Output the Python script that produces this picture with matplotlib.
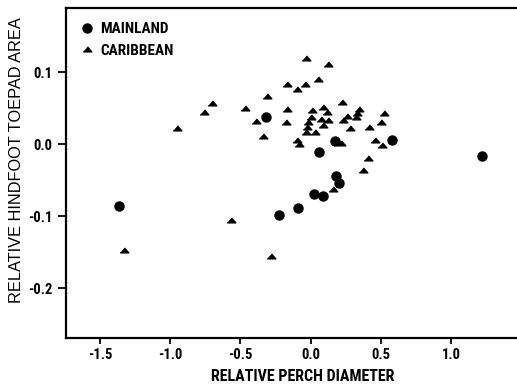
import matplotlib
matplotlib.use("Agg")
import matplotlib.pyplot as plt
from matplotlib import font_manager

fonts = font_manager.fontManager.ttflist
def has_bold(name):
    return any(f.name == name and (f.weight in ('bold', 700) or str(f.weight) == '700') for f in fonts)

cands = ['Liberation Sans Narrow', 'Roboto Condensed', 'PT Sans Narrow', 'Fira Sans Condensed',
         'IBM Plex Sans Condensed', 'Open Sans Condensed', 'Encode Sans Condensed',
         'Archivo Narrow', 'Asap Condensed']
narrow = next((n for n in cands if has_bold(n)), 'Liberation Sans')
plt.rcParams['font.family'] = [narrow, 'DejaVu Sans']
plt.rcParams['axes.unicode_minus'] = False

# Mainland (circles)
main_x = [-1.362, -0.316, -0.223, -0.093, 0.026, 0.088, 0.061, 0.173, 0.178, 0.204, 0.581, 1.221]
main_y = [-0.086, 0.037, -0.098, -0.089, -0.069, -0.072, -0.011, 0.004, -0.045, -0.054, 0.006, -0.016]

# Caribbean (triangles)
car_x = [-1.327, -0.952, -0.762, -0.705, -0.569, -0.468, -0.389, -0.342, -0.313, -0.283,
         -0.171, -0.166, -0.176, -0.100, -0.095, -0.081, -0.041, -0.033, -0.033, -0.028,
         -0.017, 0.000, 0.007, 0.031, 0.050, 0.073, 0.085, 0.090, 0.114, 0.123,
         0.125, 0.161, 0.216, 0.225, 0.228, 0.256, 0.280, 0.322, 0.332, 0.346,
         0.372, 0.406, 0.417, 0.458, 0.500, 0.510, 0.522]
car_y = [-0.147, 0.022, 0.045, 0.057, -0.105, 0.050, 0.032, 0.011, 0.066, -0.156,
         0.084, 0.048, 0.030, 0.077, 0.006, 0.000, 0.084, 0.120, 0.016, 0.023,
         0.030, 0.038, 0.047, 0.017, 0.090, 0.035, 0.052, 0.026, 0.045, 0.111,
         0.034, -0.062, 0.001, 0.059, 0.034, 0.039, 0.022, 0.037, 0.043, 0.048,
         -0.036, -0.019, 0.024, 0.005, 0.030, -0.002, 0.043]

x_ticks = [-1.5, -1.0, -0.5, 0.0, 0.5, 1.0]
y_ticks = [-0.2, -0.1, 0.0, 0.1]

fig = plt.figure(figsize=(5.17, 3.89), dpi=100)
ax = fig.add_axes([66/517, 1-338/389, 1-66/517, (338-8)/389])

tri = [(-1, -0.55), (1, -0.55), (0, 0.6)]
ax.plot(main_x, main_y, linestyle='none', marker='o', ms=6.5, color='black', label='MAINLAND')
ax.plot(car_x, car_y, linestyle='none', marker=tri, ms=6.2, color='black', label='CARIBBEAN')

ax.set_xlim(-1.742, 1.468)
ax.set_ylim(-0.2694, 0.1889)
ax.set_xticks(x_ticks)
ax.set_xticklabels([f"{v:.1f}" for v in x_ticks])
ax.set_yticks(y_ticks)
ax.set_yticklabels([f"{v:.1f}" for v in y_ticks])

for s in ['left', 'bottom', 'top']:
    ax.spines[s].set_linewidth(1.6)
ax.spines['right'].set_visible(False)
ax.tick_params(axis='both', direction='out', width=1.3, labelsize=10.5)
ax.tick_params(axis='x', length=4, pad=3)
ax.tick_params(axis='y', length=6, pad=4)
for lab in ax.get_xticklabels() + ax.get_yticklabels():
    lab.set_fontweight('bold')

ax.set_xlabel('RELATIVE PERCH DIAMETER', fontsize=11.5, fontweight='bold')
ax.xaxis.set_label_coords(0.525, -0.094)
ax.set_ylabel('RELATIVE HINDFOOT TOEPAD AREA', fontsize=11.8, family=['Liberation Sans', 'DejaVu Sans'])
ax.yaxis.set_label_coords(-0.093, 0.539)

leg = ax.legend(loc='upper left', bbox_to_anchor=(0.0, 0.995), frameon=False,
                prop={'weight': 'bold', 'size': 11}, handletextpad=0.35,
                labelspacing=0.5, borderaxespad=0.4, handlelength=1.1)

fig.savefig('out.png', dpi=100)
